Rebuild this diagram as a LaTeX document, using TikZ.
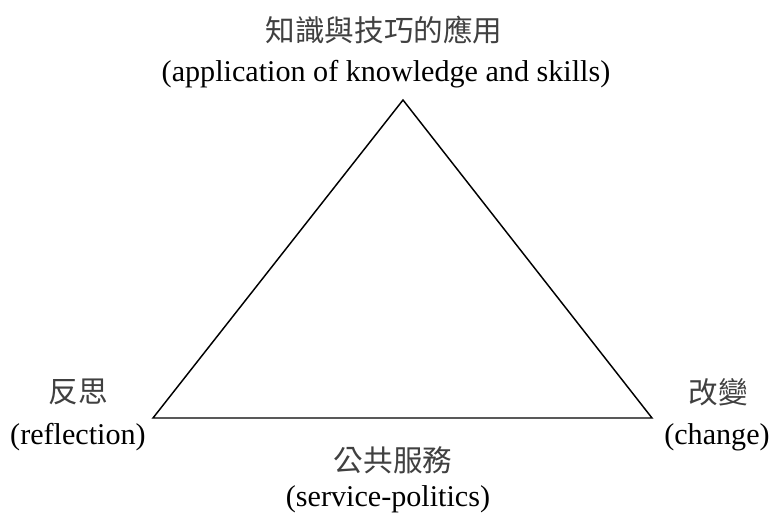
\documentclass[tikz,border=0pt]{standalone}
\usepackage{fontspec}
\setmainfont{Liberation Serif}
\newfontfamily\zhfont{Noto Sans CJK TC}
\usetikzlibrary{positioning}

\tikzset{
  zh/.style={font=\zhfont\fontsize{22.2}{26}\selectfont, text=black!75, inner sep=0pt},
  en/.style={font=\fontsize{22.6}{26}\selectfont, text=black, inner sep=0pt},
}

\begin{document}
\begin{tikzpicture}[x=0.75pt,y=0.75pt]
   \useasboundingbox (0,0) rectangle (771,514);
   \coordinate (top) at (403,414);
   \coordinate (left) at (153,96);
   \coordinate (right) at (652,96);

   \node[zh] (app_zh) at (384,484) {知識與技巧的應用};
   \node[en] (app_en) at (386,440) {(application of knowledge and skills)};
   \node[zh] (ref_zh) at (78,122) {反思};
   \node[en] (ref_en) at (78,77) {(reflection)};
   \node[zh] (chg_zh) at (718,122) {改變};
   \node[en] (chg_en) at (717,77) {(change)};
   \node[zh] (svc_zh) at (393,54) {公共服務};
   \node[en] (svc_en) at (388,15) {(service-politics)};

   \draw[line width=1.1pt, line join=miter] (top) -- (right) -- (left) -- cycle;
\end{tikzpicture}
\end{document}
